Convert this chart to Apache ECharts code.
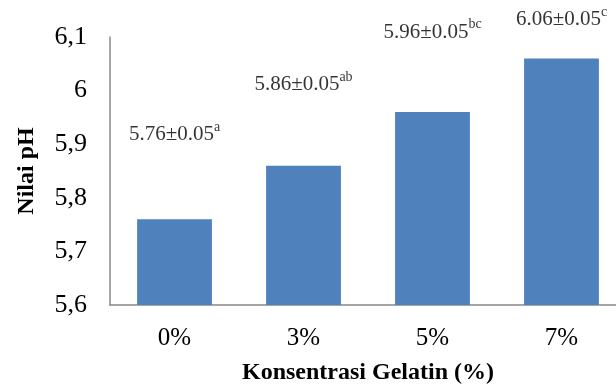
<!DOCTYPE html>
<html>
<head>
<meta charset="utf-8">
<script src="https://cdn.jsdelivr.net/npm/echarts@6/dist/echarts.min.js"></script>
<style>html,body{margin:0;padding:0;background:#fff;overflow:hidden;}#c{width:626px;height:390px;}</style>
</head>
<body>
<div id="c"></div>
<script>
var categories = ['0%', '3%', '5%', '7%'];
var phValues = [5.76, 5.86, 5.96, 6.06];
var labelMain = ['5.76±0.05', '5.86±0.05', '5.96±0.05', '6.06±0.05'];
var labelSup = ['a', 'ab', 'bc', 'c'];
var labelAnchor = [5.922, 6.015, 6.113, 6.136];
var yTickLabels = {'5.6': '5,6', '5.7': '5,7', '5.8': '5,8', '5.9': '5,9', '6.0': '6', '6.1': '6,1'};

var FONT = '"Liberation Serif", "Times New Roman", serif';
var chart = echarts.init(document.getElementById('c'), null, {renderer: 'canvas'});
chart.setOption({
  animation: false,
  backgroundColor: '#fff',
  grid: {left: 110, top: 37, right: 0, height: 270, containLabel: false},
  xAxis: {
    type: 'category',
    data: categories,
    name: 'Konsentrasi Gelatin (%)',
    nameLocation: 'middle',
    nameGap: 56,
    nameTextStyle: {fontFamily: FONT, fontSize: 24, fontWeight: 'bold', color: '#000'},
    axisLine: {lineStyle: {color: '#888', width: 1.5}},
    axisTick: {show: false},
    axisLabel: {fontFamily: FONT, fontSize: 25, color: '#000', margin: 21}
  },
  yAxis: {
    type: 'value',
    min: 5.6, max: 6.1, interval: 0.1,
    name: 'Nilai pH',
    nameLocation: 'middle',
    nameGap: 71,
    nameRotate: 90,
    nameTextStyle: {fontFamily: FONT, fontSize: 24, fontWeight: 'bold', color: '#000'},
    axisLine: {show: true, lineStyle: {color: '#888', width: 1.5}},
    axisTick: {show: false},
    splitLine: {show: false},
    axisLabel: {
      fontFamily: FONT, fontSize: 26, color: '#000', margin: 23,
      formatter: function (v) { return yTickLabels[v.toFixed(1)] || String(v); }
    }
  },
  series: [
    {
      type: 'bar',
      data: phValues,
      barWidth: '58%',
      itemStyle: {color: '#4F81BD'}
    },
    {
      type: 'scatter',
      clip: false,
      symbolSize: 0,
      silent: true,
      data: labelAnchor.map(function (v, i) { return [categories[i], v]; }),
      label: {
        show: true,
        position: 'inside',
        formatter: function (p) { return '{n|' + labelMain[p.dataIndex] + '}{s|' + labelSup[p.dataIndex] + '}'; },
        rich: {
          n: {fontFamily: FONT, fontSize: 21, color: '#000', lineHeight: 25, verticalAlign: 'bottom'},
          s: {fontFamily: FONT, fontSize: 14, color: '#000', lineHeight: 15, verticalAlign: 'top'}
        }
      }
    }
  ]
});
</script>
</body>
</html>
